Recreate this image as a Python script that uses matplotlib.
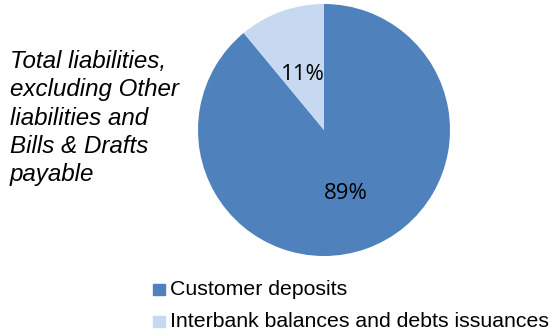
import matplotlib.pyplot as plt
from matplotlib.patches import Rectangle

labels = ["Customer deposits", "Interbank balances and debts issuances"]
shares = [89, 11]
colors = ["#4F81BD", "#C6D9F1"]
note = "Total liabilities,\nexcluding Other\nliabilities and\nBills & Drafts\npayable"

W, H = 551, 336
fig = plt.figure(figsize=(W / 100, H / 100), dpi=100)

# pie centred at (324, 130) px, radius ~126 px
cx, cy, r = 324, 130, 126
ax = fig.add_axes([(cx - r) / W, 1 - (cy + r) / H, 2 * r / W, 2 * r / H])
wedges, _, autotexts = ax.pie(shares, colors=colors, startangle=90, counterclock=False,
                              autopct="%d%%", pctdistance=0.5, radius=1,
                              textprops=dict(family="Open Sans", fontsize=16, color="black"))
for t in autotexts:
    x, y = t.get_position()
    t.set_position((x, y - 0.03))
ax.set_xlim(-1, 1)
ax.set_ylim(-1, 1)
ax.set_aspect("auto")

# side note, one line at a time on fixed baselines
for i, line in enumerate(note.split("\n")):
    fig.text(10 / W, 1 - (68 + 28.3 * i) / H, line, ha="left", va="baseline",
             fontsize=17.4, style="italic", family="Liberation Sans")

# legend drawn by hand below the pie
for i, (lab, col) in enumerate(zip(labels, colors)):
    y = 289.5 + 32 * i
    fig.patches.append(Rectangle((153 / W, 1 - (y + 5.5) / H), 12 / W, 11 / H,
                                 transform=fig.transFigure, color=col))
    fig.text(170 / W, 1 - y / H, lab, ha="left", va="center", fontsize=15.3,
             family="Liberation Sans")

fig.savefig("out.png", dpi=100)
